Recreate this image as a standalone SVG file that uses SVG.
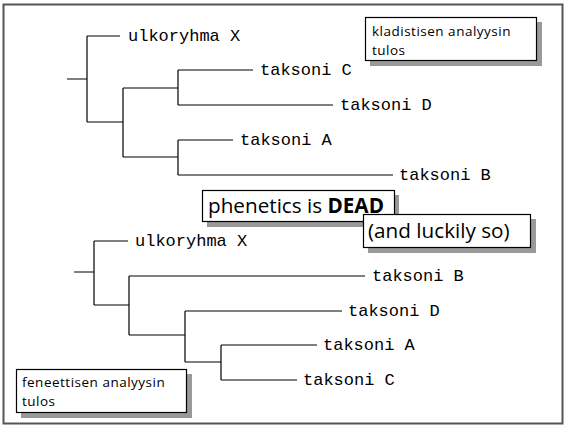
<svg xmlns="http://www.w3.org/2000/svg" width="564" height="427" viewBox="0 0 564 427">
<style>
.br{stroke:#000;stroke-width:1.2;fill:none}
.lab{font-family:"Liberation Mono","Courier New",monospace;font-size:17px;fill:#000}
.box{fill:#fff;stroke:#000;stroke-width:1.2}
.sh{fill:#999}
.bt{font-family:"Open Sans",Lato,sans-serif;font-size:13.5px;letter-spacing:0.5px;fill:#000}
.big{font-family:"Open Sans",Lato,sans-serif;font-size:20.7px;fill:#000}
</style>
<rect x="3.5" y="4.5" width="559" height="419" fill="#fff" stroke="#555" stroke-width="2"/>
<g id="connectors">
<path class="br" d="M67,79H87M87,36V122M87,36H120M87,122H123M123,88V157M123,88H178M178,70V105M178,70H253M178,105H333M123,157H178M178,140V175M178,140H233M178,175H393"/>
<path class="br" d="M74,272H94M94,241V305M94,241H128M94,305H129M129,276V335M129,276H365M129,335H185M185,311V362M185,311H342M185,362H221M221,345V380M221,345H317M221,380H297"/>
</g>
<g id="top-ulk"><text class="lab" x="128" y="41">ulkoryhma X</text></g>
<g id="top-C"><text class="lab" x="260" y="75">taksoni C</text></g>
<g id="top-D"><text class="lab" x="340" y="110">taksoni D</text></g>
<g id="top-A"><text class="lab" x="240" y="145">taksoni A</text></g>
<g id="top-B"><text class="lab" x="399" y="180">taksoni B</text></g>
<g id="bot-ulk"><text class="lab" x="135" y="246">ulkoryhma X</text></g>
<g id="bot-B"><text class="lab" x="372" y="281">taksoni B</text></g>
<g id="bot-D"><text class="lab" x="348" y="316">taksoni D</text></g>
<g id="bot-A"><text class="lab" x="323" y="350">taksoni A</text></g>
<g id="bot-C"><text class="lab" x="303" y="385">taksoni C</text></g>
<g id="klad">
<rect class="sh" x="370" y="22" width="172" height="44"/>
<rect class="box" x="365.5" y="17.5" width="171" height="43"/>
<text class="bt" x="372" y="35.5">kladistisen analyysin</text>
<text class="bt" x="372" y="54.5">tulos</text>
</g>
<g id="fen">
<rect class="sh" x="21" y="374" width="171" height="44"/>
<rect class="box" x="16.5" y="369.5" width="170" height="43"/>
<text class="bt" x="22" y="386.5">feneettisen analyysin</text>
<text class="bt" x="22" y="405.5">tulos</text>
</g>
<g id="dead">
<rect class="sh" x="207" y="195" width="192" height="32"/>
<rect class="box" x="202.5" y="190.5" width="192" height="31"/>
<text class="big" x="208" y="213">phenetics is <tspan font-weight="bold">DEAD</tspan></text>
</g>
<g id="lucky">
<rect class="sh" x="368" y="219" width="168" height="34"/>
<rect class="box" x="363.5" y="214.5" width="167" height="33"/>
<text class="big" x="368" y="238" font-size="21.5">(and luckily so)</text>
</g>
</svg>
